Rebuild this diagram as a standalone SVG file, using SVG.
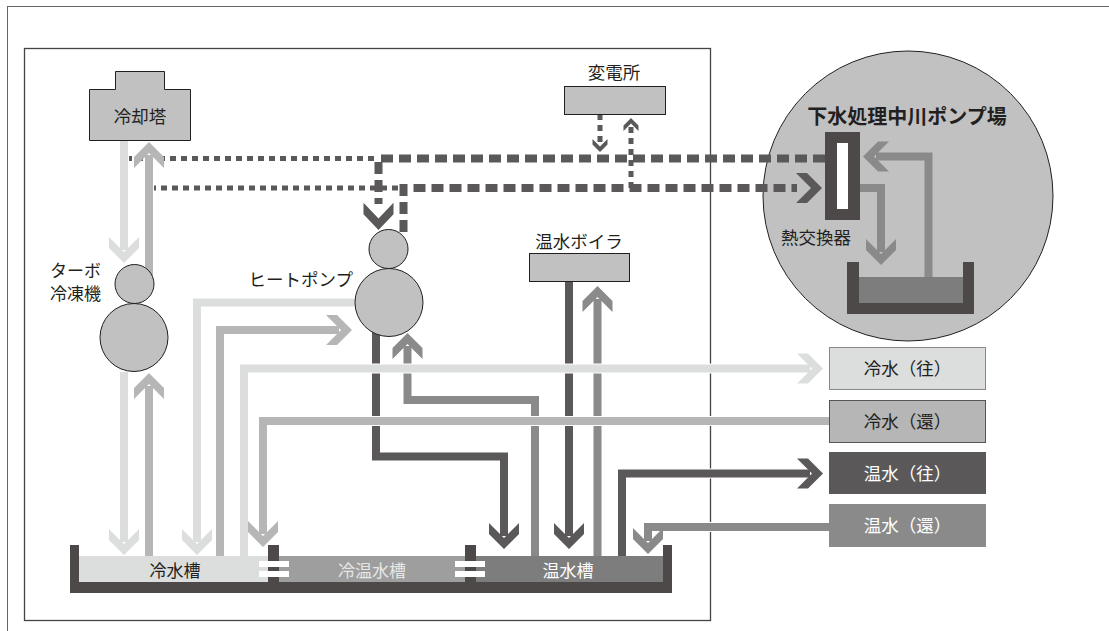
<svg xmlns="http://www.w3.org/2000/svg" width="1109" height="631" viewBox="0 0 1109 631">
<style>
text { font-family: "Noto Sans CJK JP", "Noto Sans", sans-serif; font-size: 17.5px; fill: #231f20; }
.node { fill: #c0c1c0; stroke: #231f20; stroke-width: 1; }
.pipe { fill: none; stroke-width: 8; stroke-linejoin: miter; }
.halo { fill: none; stroke: #ffffff; stroke-width: 10; }
.lt { stroke: #dcdedd; } .md { stroke: #b5b6b5; } .dk { stroke: #5a5859; } .gy { stroke: #8a8a8a; }
.flt { fill: #dcdedd; } .fmd { fill: #b5b6b5; } .fdk { fill: #5a5859; } .fgy { fill: #8a8a8a; }
.dash { fill: none; stroke: #5a5859; stroke-width: 8; stroke-dasharray: 12 6; }
.dot { fill: none; stroke: #5a5859; stroke-width: 5; stroke-dasharray: 6 5; }
.tank { fill: #4d4948; }
.wt { fill: #ffffff; }
</style>
<defs>
<path id="chev" d="M-15,-26 L0,-11 L15,-26 L15,-15 L0,0 L-15,-15 Z"/>
<path id="pL1" d="M124,140 V250"/>
<path id="pL2" d="M124,372 V542"/>
<path id="pL3" d="M356,302.5 H197 V542"/>
<path id="pL4" d="M244,556 V368.5 H810"/>
<path id="pM1" d="M149,290 V155"/>
<path id="pM2" d="M149,556 V386"/>
<path id="pM3" d="M220,556 V330 H339"/>
<path id="pM4" d="M829,421 H263 V534"/>
<path id="pD1" d="M376,330 V456.5 H504 V536"/>
<path id="pD2" d="M569,281 V536"/>
<path id="pD3" d="M622,556 V473.5 H810"/>
<path id="pG1" d="M535,556 V400 H407.5 V346"/>
<path id="pG2" d="M597.5,556 V299"/>
<path id="pG3" d="M829,527 H648 V541"/>
</defs>

<!-- frames -->
<g id="frames" fill="none">
<rect x="7.5" y="6.5" width="1110" height="630" stroke="#666" stroke-width="1"/>
<rect x="24.5" y="48.5" width="686" height="572" stroke="#444" stroke-width="1.3"/>
</g>

<!-- sewage pump station circle -->
<g id="pump-station">
<circle cx="908" cy="196" r="145" fill="#c0c1c0" stroke="#231f20" stroke-width="1"/>
<path class="tank" d="M847,262 H859 V303 H963 V262 H974 V314 H847 Z"/>
<rect x="859" y="277" width="104" height="26" fill="#7d7d7d"/>
<text x="907" y="124" text-anchor="middle" font-weight="bold" style="font-size:20px">下水処理中川ポンプ場</text>
</g>

<!-- tanks -->
<g id="tanks">
<rect x="79" y="556" width="189" height="26" fill="#dcdedd"/>
<rect x="279" y="556" width="186" height="26" fill="#9d9e9d"/>
<rect x="476" y="556" width="187" height="26" fill="#7d7d7d"/>
<rect class="tank" x="70" y="545" width="9" height="48"/>
<rect class="tank" x="663" y="545" width="9" height="48"/>
<rect class="tank" x="70" y="582" width="602" height="11"/>
<rect class="tank" x="268" y="545" width="11" height="37"/>
<rect class="tank" x="465" y="545" width="11" height="37"/>
<rect class="wt" x="259" y="561" width="30" height="6"/>
<rect class="wt" x="259" y="571" width="30" height="6"/>
<rect class="wt" x="455" y="561" width="30" height="6"/>
<rect class="wt" x="455" y="571" width="30" height="6"/>
<text x="175" y="577" text-anchor="middle" style="font-size:17px">冷水槽</text>
<text x="372" y="577" text-anchor="middle" style="font-size:17px;fill:#e6e6e6">冷温水槽</text>
<text x="568" y="577" text-anchor="middle" style="font-size:17px;fill:#ffffff">温水槽</text>
</g>

<!-- connectors -->
<g id="connectors">
<g id="heat-lines">
<path class="dot" d="M374,158.5 H127"/>
<path class="dot" d="M398,188 H153"/>
<path class="dot" d="M600,114 V145"/>
<use href="#chev" class="fdk" transform="translate(600,152) scale(0.5)"/>
<path class="dot" d="M631,188 V124"/>
<use href="#chev" class="fdk" transform="translate(631,118) rotate(180) scale(0.5)"/>
<path class="dash" d="M825,158.5 H378.5 V204"/>
<use href="#chev" class="fdk" transform="translate(378.5,230) scale(1,1.05)"/>
<path class="dash" d="M403.5,232 V188 H797"/>
<use href="#chev" class="fdk" transform="translate(822,188) rotate(-90)"/>
</g>
<g id="pipes">
<use href="#pL1" class="pipe halo"/><use href="#pL1" class="pipe lt"/>
<use href="#chev" class="flt" transform="translate(124,263)"/>
<use href="#pM1" class="pipe halo"/><use href="#pM1" class="pipe md"/>
<use href="#chev" class="fmd" transform="translate(149,142) rotate(180)"/>
<use href="#pL2" class="pipe halo"/><use href="#pL2" class="pipe lt"/>
<use href="#chev" class="flt" transform="translate(124,555)"/>
<use href="#pM2" class="pipe halo"/><use href="#pM2" class="pipe md"/>
<use href="#chev" class="fmd" transform="translate(149,373) rotate(180)"/>
<use href="#pL3" class="pipe halo"/><use href="#pL3" class="pipe lt"/>
<use href="#chev" class="flt" transform="translate(197,555)"/>
<use href="#pM3" class="pipe halo"/><use href="#pM3" class="pipe md"/>
<use href="#chev" class="fmd" transform="translate(352,330) rotate(-90)"/>
<use href="#pD1" class="pipe halo"/><use href="#pD1" class="pipe dk"/>
<use href="#chev" class="fdk" transform="translate(504,549)"/>
<use href="#pG1" class="pipe halo"/><use href="#pG1" class="pipe gy"/>
<use href="#chev" class="fgy" transform="translate(407.5,333) rotate(180)"/>
<use href="#pD2" class="pipe halo"/><use href="#pD2" class="pipe dk"/>
<use href="#chev" class="fdk" transform="translate(569,549)"/>
<use href="#pG2" class="pipe halo"/><use href="#pG2" class="pipe gy"/>
<use href="#chev" class="fgy" transform="translate(597.5,286) rotate(180)"/>
<use href="#pL4" class="pipe halo"/><use href="#pL4" class="pipe lt"/>
<use href="#chev" class="flt" transform="translate(823,368.5) rotate(-90)"/>
<use href="#pM4" class="pipe halo"/><use href="#pM4" class="pipe md"/>
<use href="#chev" class="fmd" transform="translate(263,547)"/>
<use href="#pD3" class="pipe halo"/><use href="#pD3" class="pipe dk"/>
<use href="#chev" class="fdk" transform="translate(823,473.5) rotate(-90)"/>
<use href="#pG3" class="pipe halo"/><use href="#pG3" class="pipe gy"/>
<use href="#chev" class="fgy" transform="translate(648,554)"/>
<path class="pipe gy" d="M928.5,277 V156.5 H876"/>
<use href="#chev" class="fgy" transform="translate(863,156.5) rotate(90)"/>
<path class="pipe gy" d="M860,188 H881 V252"/>
<use href="#chev" class="fgy" transform="translate(881,265)"/>
</g>
</g>

<!-- nodes -->
<g id="cooling-tower">
<path class="node" d="M89.5,89.5 H115.5 V71.5 H164.5 V89.5 H190.5 V140.5 H89.5 Z"/>
<text x="140" y="123" text-anchor="middle">冷却塔</text>
</g>
<g id="substation">
<rect class="node" x="564.5" y="86.5" width="101" height="28"/>
<text x="614" y="79" text-anchor="middle">変電所</text>
</g>
<g id="boiler">
<rect class="node" x="529.5" y="253.5" width="100" height="28"/>
<text x="579" y="248" text-anchor="middle">温水ボイラ</text>
</g>
<g id="turbo-chiller">
<circle class="node" cx="134.5" cy="284" r="19.5"/>
<circle class="node" cx="134" cy="337.5" r="34"/>
<text x="101" y="277" text-anchor="end" style="font-size:17px">ターボ</text>
<text x="101" y="300" text-anchor="end" style="font-size:17px">冷凍機</text>
</g>
<g id="heat-pump">
<circle class="node" cx="388.5" cy="249" r="19.5"/>
<circle class="node" cx="389" cy="302.5" r="34"/>
<text x="353" y="286" text-anchor="end">ヒートポンプ</text>
</g>
<g id="heat-exchanger">
<rect x="825" y="132" width="35" height="88" fill="#4d4948"/>
<rect x="837" y="143" width="11" height="66" fill="#ffffff"/>
<text x="781" y="244">熱交換器</text>
</g>

<!-- legend -->
<g id="legend-cold-supply">
<rect x="829.5" y="347.5" width="156" height="42" fill="#dcdedd" stroke="#888" stroke-width="1"/>
<text x="907.5" y="374.5" text-anchor="middle">冷水（往）</text>
</g>
<g id="legend-cold-return">
<rect x="829.5" y="400.5" width="156" height="42" fill="#b5b6b5" stroke="#555" stroke-width="1"/>
<text x="907.5" y="427.5" text-anchor="middle">冷水（還）</text>
</g>
<g id="legend-hot-supply">
<rect x="829" y="452" width="157" height="42" fill="#5a5859"/>
<text x="907.5" y="479.5" text-anchor="middle" style="fill:#ffffff">温水（往）</text>
</g>
<g id="legend-hot-return">
<rect x="829" y="504" width="157" height="43" fill="#8a8a8a"/>
<text x="907.5" y="532" text-anchor="middle" style="fill:#ffffff">温水（還）</text>
</g>
</svg>
